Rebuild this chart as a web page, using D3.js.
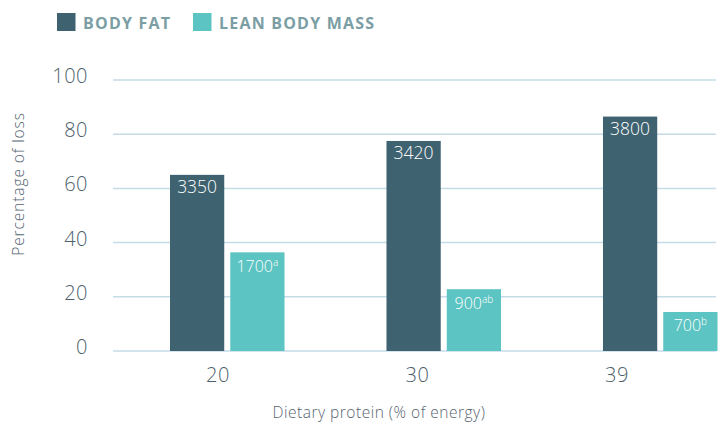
<!DOCTYPE html>
<html>
<head>
<meta charset="utf-8">
<script src="https://cdn.jsdelivr.net/npm/d3@7/dist/d3.min.js"></script>
<style>
  html, body { margin: 0; padding: 0; background: #ffffff; }
  svg { display: block; }
</style>
</head>
<body>
<svg id="chart" width="721" height="424"></svg>
<script>
const categories = ["20", "30", "39"];
const seriesNames = ["BODY FAT", "LEAN BODY MASS"];
const bodyFat = [65, 77.5, 86.5];
const leanMass = [36.4, 22.8, 14.4];
const bodyFatLabels = ["3350", "3420", "3800"];
const leanLabels = ["1700", "900", "700"];
const leanSup = ["a", "ab", "b"];
const yTicks = [0, 20, 40, 60, 80, 100];

const colors = ["#3e6270", "#5cc4c2"];
const font = "'Open Sans', Lato, sans-serif";

const svg = d3.select("#chart");

const y = d3.scaleLinear().domain([0, 100]).range([351, 80]);
const x0 = d3.scaleBand().domain(categories).range([170, 717.5]).paddingInner(0.471).paddingOuter(0);
const x1 = d3.scaleBand().domain(seriesNames).range([0, x0.bandwidth()]).paddingInner(0.1).paddingOuter(0);
const xLabel = d3.scalePoint().domain(categories).range([218, 617]);

// gridlines
svg.append("g").selectAll("line").data(yTicks).join("line")
  .attr("x1", 113).attr("x2", 716)
  .attr("y1", d => y(d)).attr("y2", d => y(d))
  .attr("stroke", "#c6dbe8").attr("stroke-width", 1.5);

// y tick labels
svg.append("g").selectAll("text").data(yTicks).join("text")
  .attr("x", 88).attr("y", d => y(d) - 4.5)
  .attr("text-anchor", "end").attr("dominant-baseline", "central")
  .attr("font-family", font).attr("font-weight", 300).attr("font-size", 20)
  .attr("letter-spacing", 0.5)
  .attr("fill", "#4d5f6b")
  .text(d => d);

// y title
svg.append("text")
  .attr("transform", "translate(24,184) rotate(-90)")
  .attr("text-anchor", "middle")
  .attr("font-family", font).attr("font-weight", 300).attr("font-size", 15.5)
  .attr("letter-spacing", 0.9)
  .attr("fill", "#56656f")
  .text("Percentage of loss");

// bars
const rows = categories.map((c, i) => ({
  cat: c,
  vals: [
    { s: seriesNames[0], v: bodyFat[i], label: bodyFatLabels[i], sup: "" },
    { s: seriesNames[1], v: leanMass[i], label: leanLabels[i], sup: leanSup[i] }
  ]
}));

const groups = svg.append("g").selectAll("g").data(rows).join("g")
  .attr("transform", d => `translate(${x0(d.cat)},0)`);

groups.selectAll("rect").data(d => d.vals).join("rect")
  .attr("x", d => x1(d.s))
  .attr("y", d => y(d.v))
  .attr("width", x1.bandwidth())
  .attr("height", d => y(0) - y(d.v))
  .attr("fill", (d, i) => colors[i]);

const lbl = groups.selectAll("text.val").data(d => d.vals).join("text")
  .attr("class", "val")
  .attr("x", d => x1(d.s) + x1.bandwidth() / 2)
  .attr("y", (d, i) => y(d.v) + (i === 0 ? 18.5 : 19.5))
  .attr("text-anchor", "middle")
  .attr("font-family", font).attr("font-weight", 300)
  .attr("font-size", (d, i) => i === 0 ? 17.5 : 16)
  .attr("fill", "#ffffff");
lbl.append("tspan").text(d => d.label);
lbl.append("tspan").attr("dy", -6).attr("font-size", 10).text(d => d.sup);

// x axis labels
svg.append("g").selectAll("text").data(categories).join("text")
  .attr("x", d => xLabel(d)).attr("y", 374)
  .attr("text-anchor", "middle").attr("dominant-baseline", "central")
  .attr("font-family", font).attr("font-weight", 300).attr("font-size", 20)
  .attr("letter-spacing", 0.5)
  .attr("fill", "#4d5f6b")
  .text(d => d);

// x title
svg.append("text")
  .attr("x", 379).attr("y", 418)
  .attr("text-anchor", "middle")
  .attr("font-family", font).attr("font-weight", 300).attr("font-size", 15.5)
  .attr("letter-spacing", 0.5)
  .attr("fill", "#56656f")
  .text("Dietary protein (% of energy)");

// legend
const legendX = [57, 193];
const leg = svg.append("g").selectAll("g").data(seriesNames).join("g")
  .attr("transform", (d, i) => `translate(${legendX[i]},13)`);
leg.append("rect").attr("width", 18.5).attr("height", 18).attr("fill", (d, i) => colors[i]);
leg.append("text")
  .attr("x", 26).attr("y", 15.5)
  .attr("font-family", font).attr("font-weight", 700).attr("font-size", 16)
  .attr("letter-spacing", 1.2)
  .attr("fill", "#7b9ea4")
  .text(d => d);
</script>
</body>
</html>
